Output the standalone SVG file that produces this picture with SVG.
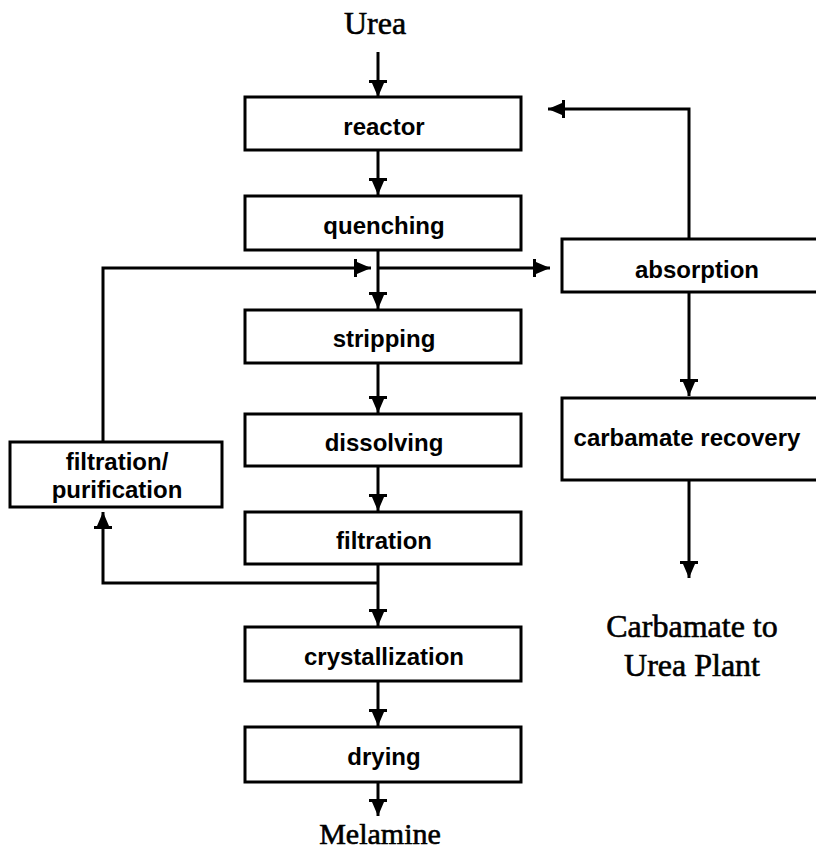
<svg xmlns="http://www.w3.org/2000/svg" width="816" height="855" viewBox="0 0 816 855">
<style>
.box{fill:#fff;stroke:#000;stroke-width:3}
.lbl{font-family:"Liberation Sans",Arial,sans-serif;font-size:24px;font-weight:bold;text-anchor:middle;fill:#000}
.ser{font-family:"Liberation Serif","Times New Roman",serif;font-size:32px;text-anchor:middle;fill:#000;stroke:#000;stroke-width:0.6}
.ln{fill:none;stroke:#000;stroke-width:3}
</style>
<defs>
<marker id="ah" viewBox="0 0 18 20" refX="17" refY="10" markerWidth="18" markerHeight="20" markerUnits="userSpaceOnUse" orient="auto">
<path d="M0,1 L3,1 L3,4 L17,10 L3,16 L3,19 L0,19 Z" fill="#000"/>
</marker>
</defs>
<text class="ser" x="375" y="34">Urea</text>
<text class="ser" x="692" y="637">Carbamate to</text>
<text class="ser" x="692" y="676">Urea Plant</text>
<text class="ser" x="380" y="844" style="font-size:30px">Melamine</text>
<g id="reactor"><rect class="box" x="245" y="97" width="276" height="53"/><text class="lbl" x="384" y="135">reactor</text></g>
<g id="quenching"><rect class="box" x="245" y="196" width="276" height="54"/><text class="lbl" x="384" y="234">quenching</text></g>
<g id="stripping"><rect class="box" x="245" y="310" width="276" height="53"/><text class="lbl" x="384" y="347">stripping</text></g>
<g id="dissolving"><rect class="box" x="245" y="414" width="276" height="52"/><text class="lbl" x="384" y="451">dissolving</text></g>
<g id="filtration"><rect class="box" x="245" y="512" width="276" height="52"/><text class="lbl" x="384" y="549">filtration</text></g>
<g id="crystallization"><rect class="box" x="245" y="627" width="276" height="54"/><text class="lbl" x="384" y="665">crystallization</text></g>
<g id="drying"><rect class="box" x="245" y="727" width="276" height="55"/><text class="lbl" x="384" y="765">drying</text></g>
<g id="filtration-purification"><rect class="box" x="10" y="442" width="212" height="65"/><text class="lbl" x="117" y="470">filtration/</text><text class="lbl" x="117" y="498">purification</text></g>
<g id="absorption"><rect class="box" x="562" y="239" width="262" height="53"/><text class="lbl" x="697" y="278">absorption</text></g>
<g id="carbamate-recovery"><rect class="box" x="562" y="398" width="262" height="82"/><text class="lbl" x="687" y="446">carbamate recovery</text></g>
<g id="connectors">
<line class="ln" x1="378" y1="52" x2="378" y2="97" marker-end="url(#ah)"/>
<line class="ln" x1="378" y1="150" x2="378" y2="195" marker-end="url(#ah)"/>
<line class="ln" x1="378" y1="250" x2="378" y2="309" marker-end="url(#ah)"/>
<polyline class="ln" points="103,442 103,268 371,268" marker-end="url(#ah)"/>
<line class="ln" x1="378" y1="268" x2="550" y2="268" marker-end="url(#ah)"/>
<polyline class="ln" points="689,239 689,109 548,109" marker-end="url(#ah)"/>
<line class="ln" x1="689" y1="292" x2="689" y2="396" marker-end="url(#ah)"/>
<line class="ln" x1="689" y1="480" x2="689" y2="578" marker-end="url(#ah)"/>
<line class="ln" x1="378" y1="363" x2="378" y2="413" marker-end="url(#ah)"/>
<line class="ln" x1="378" y1="466" x2="378" y2="511" marker-end="url(#ah)"/>
<line class="ln" x1="378" y1="564" x2="378" y2="626" marker-end="url(#ah)"/>
<polyline class="ln" points="378,583 103,583 103,512" marker-end="url(#ah)"/>
<line class="ln" x1="378" y1="681" x2="378" y2="726" marker-end="url(#ah)"/>
<line class="ln" x1="378" y1="782" x2="378" y2="816" marker-end="url(#ah)"/>
</g>
</svg>
